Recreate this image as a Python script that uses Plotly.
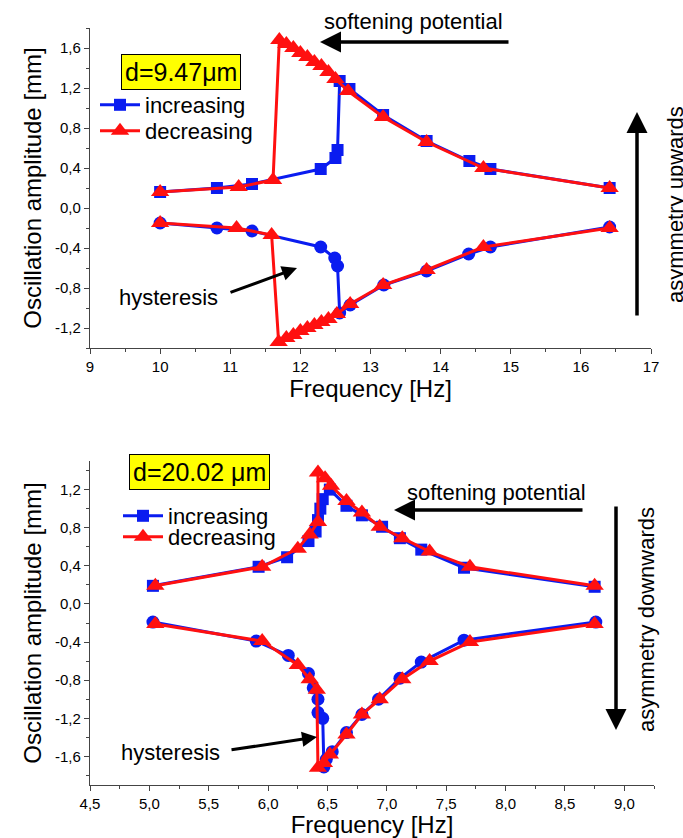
import plotly.graph_objects as go

W, H = 683, 838

# ---- d = 9.47 um : frequency sweeps (Hz) and amplitudes (mm) ----
top_inc_pos_x = [10.0, 10.81, 11.31, 12.29, 12.50, 12.53, 12.56, 12.70, 13.18, 13.80, 14.41, 14.71, 16.41]
top_inc_pos_y = [0.16, 0.20, 0.24, 0.39, 0.50, 0.58, 1.27, 1.19, 0.93, 0.67, 0.47, 0.39, 0.20]
top_inc_neg_x = [10.0, 10.81, 11.31, 12.29, 12.49, 12.53, 12.56, 12.71, 13.19, 13.80, 14.40, 14.71, 16.41]
top_inc_neg_y = [-0.15, -0.20, -0.23, -0.39, -0.50, -0.58, -1.05, -0.97, -0.77, -0.63, -0.46, -0.39, -0.19]
top_dec_pos_x = [10.0, 11.12, 11.61, 11.70, 11.80, 11.90, 12.00, 12.10, 12.20, 12.30, 12.40, 12.50, 12.68, 13.18, 13.80, 14.61, 16.41]
top_dec_pos_y = [0.16, 0.21, 0.28, 1.68, 1.64, 1.60, 1.55, 1.51, 1.46, 1.42, 1.36, 1.29, 1.17, 0.91, 0.66, 0.40, 0.20]
top_dec_neg_x = [10.0, 11.09, 11.59, 11.69, 11.80, 11.90, 12.00, 12.10, 12.20, 12.30, 12.40, 12.52, 12.71, 13.18, 13.80, 14.61, 16.41]
top_dec_neg_y = [-0.15, -0.20, -0.27, -1.34, -1.30, -1.27, -1.23, -1.20, -1.17, -1.14, -1.11, -1.06, -0.96, -0.77, -0.62, -0.39, -0.20]

# ---- d = 20.02 um ----
bot_inc_pos_x = [5.03, 5.92, 6.16, 6.34, 6.40, 6.42, 6.44, 6.46, 6.52, 6.66, 6.79, 6.96, 7.11, 7.29, 7.65, 8.75]
bot_inc_pos_y = [0.19, 0.39, 0.49, 0.66, 0.76, 0.88, 1.00, 1.10, 1.20, 1.03, 0.93, 0.81, 0.69, 0.57, 0.38, 0.18]
bot_inc_neg_x = [5.03, 5.90, 6.17, 6.34, 6.38, 6.42, 6.42, 6.46, 6.47, 6.49, 6.54, 6.66, 6.79, 6.93, 7.11, 7.29, 7.65, 8.76]
bot_inc_neg_y = [-0.19, -0.39, -0.54, -0.73, -0.88, -1.00, -1.14, -1.20, -1.71, -1.63, -1.55, -1.35, -1.16, -1.00, -0.78, -0.61, -0.38, -0.19]
bot_dec_pos_x = [5.05, 5.95, 6.25, 6.35, 6.42, 6.42, 6.48, 6.53, 6.66, 6.79, 6.94, 7.13, 7.36, 7.70, 8.75]
bot_dec_pos_y = [0.19, 0.39, 0.58, 0.73, 0.86, 1.38, 1.32, 1.24, 1.08, 0.96, 0.81, 0.69, 0.55, 0.39, 0.19]
bot_dec_neg_x = [5.05, 5.95, 6.25, 6.35, 6.41, 6.42, 6.47, 6.52, 6.66, 6.79, 6.94, 7.13, 7.36, 7.70, 8.75]
bot_dec_neg_y = [-0.21, -0.39, -0.64, -0.79, -0.90, -1.72, -1.67, -1.58, -1.37, -1.16, -1.00, -0.79, -0.60, -0.40, -0.21]

# ---- tick labels ----
top_xticks = [9, 10, 11, 12, 13, 14, 15, 16, 17]
top_xtext = ["9", "10", "11", "12", "13", "14", "15", "16", "17"]
top_yticks = [-1.2, -0.8, -0.4, 0.0, 0.4, 0.8, 1.2, 1.6]
top_ytext = ["-1,2", "-0,8", "-0,4", "0,0", "0,4", "0,8", "1,2", "1,6"]
bot_xticks = [4.5, 5.0, 5.5, 6.0, 6.5, 7.0, 7.5, 8.0, 8.5, 9.0]
bot_xtext = ["4,5", "5,0", "5,5", "6,0", "6,5", "7,0", "7,5", "8,0", "8,5", "9,0"]
bot_yticks = [-1.6, -1.2, -0.8, -0.4, 0.0, 0.4, 0.8, 1.2]
bot_ytext = ["-1,6", "-1,2", "-0,8", "-0,4", "0,0", "0,4", "0,8", "1,2"]

BLUE = "#0a1cf0"
RED = "#ff1010"
FONT = "Liberation Sans, Arial, sans-serif"
LW = 3


def px(x):
    return x / W


def py(y):
    return 1 - y / H


fig = go.Figure()


def add_sweeps(xa, ya, inc_pos, inc_neg, dec_pos, dec_neg, leg_inc, leg_dec):
    fig.add_trace(go.Scatter(x=inc_pos[0], y=inc_pos[1], mode="lines+markers", name="increasing",
                             line=dict(color=BLUE, width=LW),
                             marker=dict(symbol="square", size=12, color=BLUE),
                             xaxis=xa, yaxis=ya, legend=leg_inc))
    fig.add_trace(go.Scatter(x=inc_neg[0], y=inc_neg[1], mode="lines+markers", showlegend=False,
                             line=dict(color=BLUE, width=LW),
                             marker=dict(symbol="circle", size=13, color=BLUE),
                             xaxis=xa, yaxis=ya))
    fig.add_trace(go.Scatter(x=dec_pos[0], y=dec_pos[1], mode="lines+markers", name="decreasing",
                             line=dict(color=RED, width=LW),
                             marker=dict(symbol="triangle-up", size=16, color=RED),
                             xaxis=xa, yaxis=ya, legend=leg_dec))
    fig.add_trace(go.Scatter(x=dec_neg[0], y=dec_neg[1], mode="lines+markers", showlegend=False,
                             line=dict(color=RED, width=LW),
                             marker=dict(symbol="triangle-up", size=16, color=RED),
                             xaxis=xa, yaxis=ya))


add_sweeps("x", "y", (top_inc_pos_x, top_inc_pos_y), (top_inc_neg_x, top_inc_neg_y),
           (top_dec_pos_x, top_dec_pos_y), (top_dec_neg_x, top_dec_neg_y), "legend", "legend3")
add_sweeps("x2", "y2", (bot_inc_pos_x, bot_inc_pos_y), (bot_inc_neg_x, bot_inc_neg_y),
           (bot_dec_pos_x, bot_dec_pos_y), (bot_dec_neg_x, bot_dec_neg_y), "legend2", "legend4")

axis_common = dict(showline=True, linecolor="#444", linewidth=1.3, ticks="outside",
                   ticklen=5, tickwidth=1.2, tickcolor="#444", showgrid=False, zeroline=False,
                   automargin=False,
                   tickfont=dict(family=FONT, size=15, color="black"),
                   title_font=dict(family=FONT, size=24, color="black"))


def legend_box(xp, yp):
    return dict(x=px(xp), y=py(yp), xanchor="left", yanchor="middle", bgcolor="rgba(0,0,0,0)",
                font=dict(family=FONT, size=22), itemwidth=40, borderwidth=0)


fig.update_layout(
    width=W, height=H, margin=dict(l=0, r=0, t=0, b=0),
    paper_bgcolor="white", plot_bgcolor="white", font=dict(family=FONT, color="black"),
    xaxis=dict(domain=[px(90), px(651)], anchor="y", range=[9, 17],
               tickvals=top_xticks, ticktext=top_xtext,
               minor=dict(ticks="outside", ticklen=3, dtick=0.5, tickcolor="#444"),
               title=dict(text="Frequency [Hz]", standoff=0), **axis_common),
    yaxis=dict(domain=[py(348), py(28)], anchor="x", range=[-1.4, 1.8],
               tickvals=top_yticks, ticktext=top_ytext,
               minor=dict(ticks="outside", ticklen=3, dtick=0.2, tick0=0, tickcolor="#444"),
               title=dict(text="Oscillation amplitude [mm]", standoff=6), **axis_common),
    xaxis2=dict(domain=[px(90), px(654)], anchor="y2", range=[4.5, 9.25],
                tickvals=bot_xticks, ticktext=bot_xtext,
                minor=dict(ticks="outside", ticklen=3, dtick=0.25, tick0=4.5, tickcolor="#444"),
                title=dict(text="Frequency [Hz]", standoff=5), **axis_common),
    yaxis2=dict(domain=[py(785), py(461)], anchor="x2", range=[-1.9, 1.5],
                tickvals=bot_yticks, ticktext=bot_ytext,
                minor=dict(ticks="outside", ticklen=3, dtick=0.2, tick0=0, tickcolor="#444"),
                title=dict(text="Oscillation amplitude [mm]", standoff=6), **axis_common),
    legend=legend_box(95, 105),
    legend3=legend_box(95, 131),
    legend2=legend_box(118, 516),
    legend4=legend_box(118, 537),
)

ann = []
# sample labels in yellow boxes
ann.append(dict(x=px(181), y=py(72), xref="paper", yref="paper", text="d=9.47\u03bcm", showarrow=False,
                xanchor="center", yanchor="middle",
                font=dict(family=FONT, size=25), bgcolor="#ffff00", bordercolor="black",
                borderwidth=1, borderpad=3))
ann.append(dict(x=px(199), y=py(472), xref="paper", yref="paper", text="d=20.02 \u03bcm", showarrow=False,
                xanchor="center", yanchor="middle",
                font=dict(family=FONT, size=25), bgcolor="#ffff00", bordercolor="black",
                borderwidth=1, borderpad=3))

# softening potential labels and arrows
ann.append(dict(x=px(413), y=py(22), xref="paper", yref="paper", text="softening potential",
                xanchor="center", yanchor="middle",
                showarrow=False, font=dict(family=FONT, size=22)))
ann.append(dict(x=px(320), y=py(42), xref="paper", yref="paper", ax=190, ay=0, text="",
                showarrow=True, arrowhead=2, arrowsize=1.2, arrowwidth=3.5, arrowcolor="black"))
ann.append(dict(x=px(496), y=py(493), xref="paper", yref="paper", text="softening potential",
                xanchor="center", yanchor="middle",
                showarrow=False, font=dict(family=FONT, size=22)))
ann.append(dict(x=px(394), y=py(510), xref="paper", yref="paper", ax=190, ay=0, text="",
                showarrow=True, arrowhead=2, arrowsize=1.2, arrowwidth=3.5, arrowcolor="black"))

# hysteresis labels and arrows
ann.append(dict(x=px(168), y=py(297), xref="paper", yref="paper", text="hysteresis",
                xanchor="center", yanchor="middle",
                showarrow=False, font=dict(family=FONT, size=22)))
ann.append(dict(x=px(297), y=py(268), xref="paper", yref="paper", ax=-68, ay=25, text="",
                showarrow=True, arrowhead=2, arrowsize=1, arrowwidth=3, arrowcolor="black"))
ann.append(dict(x=px(170), y=py(752), xref="paper", yref="paper", text="hysteresis",
                xanchor="center", yanchor="middle",
                showarrow=False, font=dict(family=FONT, size=22)))
ann.append(dict(x=px(317), y=py(737), xref="paper", yref="paper", ax=-87, ay=13, text="",
                showarrow=True, arrowhead=2, arrowsize=1, arrowwidth=3, arrowcolor="black"))

# asymmetry labels and arrows
ann.append(dict(x=px(675), y=py(205), xref="paper", yref="paper", text="asymmetry upwards",
                xanchor="center", yanchor="middle",
                showarrow=False, textangle=-90, font=dict(family=FONT, size=22)))
ann.append(dict(x=px(637), y=py(112), xref="paper", yref="paper", ax=0, ay=205, text="",
                showarrow=True, arrowhead=2, arrowsize=1.2, arrowwidth=3.5, arrowcolor="black"))
ann.append(dict(x=px(646), y=py(620), xref="paper", yref="paper", text="asymmetry downwards",
                xanchor="center", yanchor="middle",
                showarrow=False, textangle=-90, font=dict(family=FONT, size=22)))
ann.append(dict(x=px(616), y=py(730), xref="paper", yref="paper", ax=0, ay=-225, text="",
                showarrow=True, arrowhead=2, arrowsize=1.2, arrowwidth=3.5, arrowcolor="black"))

fig.update_layout(annotations=ann)

fig.write_html("out.html")
